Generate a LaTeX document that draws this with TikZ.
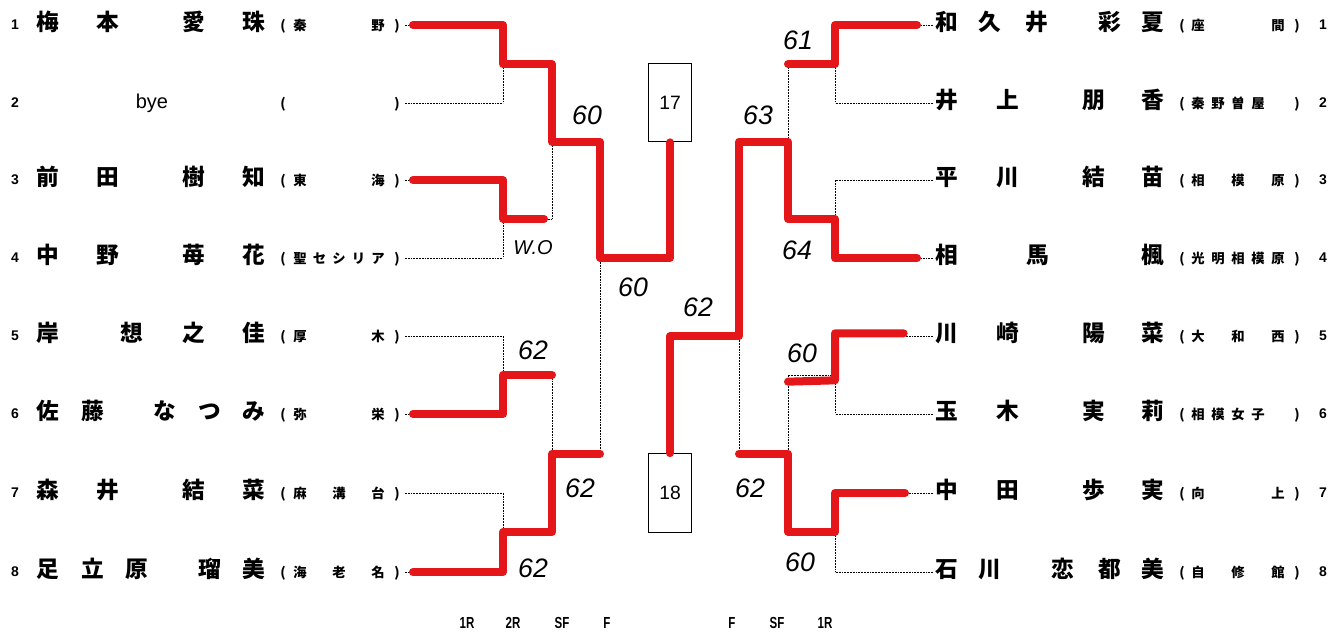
\documentclass[tikz,border=0pt]{standalone}
\usepackage{fontspec}
\newfontfamily\jp{Noto Sans CJK JP}
\newfontfamily\arial{Liberation Sans}
\definecolor{marker}{RGB}{228,22,26}
\tikzset{
  nm/.style={inner sep=0pt, font=\jp\bfseries\fontsize{17}{17}\selectfont, text height=0.8em, text depth=0.04em},
  sc/.style={inner sep=0pt, font=\jp\bfseries\fontsize{10}{10}\selectfont, text height=0.8em, text depth=0.04em},
  num/.style={inner sep=0pt, font=\arial\bfseries\fontsize{10.5}{10.5}\selectfont},
  pr/.style={line width=0.75pt, dash pattern=on 1.4pt off 0.7pt},
  win/.style={draw=marker, line width=6pt, line cap=round, line join=round},
  score/.style={inner sep=0pt, font=\arial\itshape\fontsize{20}{20}\selectfont},
  qbox/.style={draw, line width=0.8pt, minimum width=32pt, minimum height=59pt, inner sep=0pt, font=\arial\fontsize{14.5}{14.5}\selectfont},
  rnd/.style={inner sep=0pt, font=\arial\bfseries\fontsize{12}{12}\selectfont}
}
\newcommand\chars[4]{\foreach \zi/\xx [count=\k] in {#4} {\node[#2] (#1\k) at (\xx,#3) {\zi};}}
\begin{document}
\begin{tikzpicture}[x=0.75pt,y=-0.75pt]
\useasboundingbox (0,0) rectangle (1334,632);
% ---------- numbers and parentheses ----------
\foreach \y [count=\i] in {25,103,180,258,336,414,493,572} {
  \node[num] (lnum\i) at (15,\y) {\i};
  \node[num] (rnum\i) at (1323,\y) {\i};
  \node[sc] (lpo\i) at (283,\y) {(};
  \node[sc] (lpc\i) at (397,\y) {)};
  \node[sc] (rpo\i) at (1182,\y) {(};
  \node[sc] (rpc\i) at (1297,\y) {)};
}
% ---------- left names ----------
\chars{lnA}{nm}{25}{梅/48,本/108,愛/194,珠/254}
\node[inner sep=0pt, font=\arial\fontsize{15}{15}\selectfont] (bye) at (152,103) {bye};
\chars{lnC}{nm}{180}{前/48,田/108,樹/194,知/254}
\chars{lnD}{nm}{258}{中/48,野/108,苺/194,花/254}
\chars{lnE}{nm}{336}{岸/48,想/132,之/194,佳/254}
\chars{lnF}{nm}{414}{佐/48,藤/93,な/165,つ/210,み/254}
\chars{lnG}{nm}{493}{森/48,井/108,結/194,菜/254}
\chars{lnH}{nm}{572}{足/48,立/93,原/137,瑠/210,美/254}
\chars{lsA}{sc}{25}{秦/300,野/378}
\chars{lsC}{sc}{180}{東/300,海/378}
\chars{lsD}{sc}{258}{聖/300,セ/319.5,シ/339,リ/358.5,ア/378}
\chars{lsE}{sc}{336}{厚/300,木/378}
\chars{lsF}{sc}{414}{弥/300,栄/378}
\chars{lsG}{sc}{493}{麻/300,溝/339,台/378}
\chars{lsH}{sc}{572}{海/300,老/339,名/378}
% ---------- right names ----------
\chars{rnA}{nm}{25}{和/947,久/990,井/1037,彩/1110,夏/1153}
\chars{rnB}{nm}{103}{井/947,上/1008,朋/1094,香/1153}
\chars{rnC}{nm}{180}{平/947,川/1008,結/1094,苗/1153}
\chars{rnD}{nm}{258}{相/947,馬/1038,楓/1153}
\chars{rnE}{nm}{336}{川/947,崎/1008,陽/1094,菜/1153}
\chars{rnF}{nm}{414}{玉/947,木/1008,実/1094,莉/1153}
\chars{rnG}{nm}{493}{中/947,田/1008,歩/1094,実/1153}
\chars{rnH}{nm}{572}{石/947,川/990,恋/1063,都/1110,美/1153}
\chars{rsA}{sc}{25}{座/1198,間/1278}
\chars{rsB}{sc}{103}{秦/1198,野/1218,曽/1238,屋/1258}
\chars{rsC}{sc}{180}{相/1198,模/1238,原/1278}
\chars{rsD}{sc}{258}{光/1198,明/1218,相/1238,模/1258,原/1278}
\chars{rsE}{sc}{336}{大/1198,和/1238,西/1278}
\chars{rsF}{sc}{414}{相/1198,模/1218,女/1238,子/1258}
\chars{rsG}{sc}{493}{向/1198,上/1278}
\chars{rsH}{sc}{572}{自/1198,修/1238,館/1278}
% ---------- boxes ----------
\node[qbox] (box17) at (670,102.5) {17};
\node[qbox] (box18) at (670,493) {18};
% ---------- coordinates ----------
\foreach \y [count=\i] in {25,103,180,258,336,414,493,572} {
  \coordinate (La\i) at (405,\y); \coordinate (Lb\i) at (503,\y);
  \coordinate (Ra\i) at (933,\y); \coordinate (Rb\i) at (835,\y);
}
\foreach \y [count=\i] in {64,219,375,532} {
  \coordinate (l1o\i) at (503,\y); \coordinate (l2i\i) at (552,\y);
  \coordinate (r1o\i) at (835,\y); \coordinate (rsi\i) at (788,\y);
}
\foreach \y [count=\i] in {141.5,453.5} {
  \coordinate (l2o\i) at (552,\y); \coordinate (lsi\i) at (600,\y);
  \coordinate (rso\i) at (788,\y); \coordinate (rfi\i) at (739,\y);
}
\coordinate (lso) at (600,258); \coordinate (lf) at (670,258);
\coordinate (rfo) at (739,336); \coordinate (rf) at (670,336);
% ---------- printed bracket ----------
\foreach \i in {1,...,8} {\draw[pr] (La\i) -- (Lb\i); \draw[pr] (Ra\i) -- (Rb\i);}
\foreach \a/\b in {1/2,3/4,5/6,7/8} {\draw[pr] (Lb\a) -- (Lb\b); \draw[pr] (Rb\a) -- (Rb\b);}
\foreach \i in {1,...,4} {\draw[pr] (l1o\i) -- (l2i\i); \draw[pr] (r1o\i) -- (rsi\i);}
\draw[pr] (l2i1) -- (l2i2); \draw[pr] (l2i3) -- (l2i4);
\draw[pr] (rsi1) -- (rsi2); \draw[pr] (rsi3) -- (rsi4);
\foreach \i in {1,2} {\draw[pr] (l2o\i) -- (lsi\i); \draw[pr] (rso\i) -- (rfi\i);}
\draw[pr] (lsi1) -- (lsi2);
\draw[pr] (rfi1) -- (rfi2);
\draw[pr] (lso) -- (lf) -- (box17.south);
\draw[pr] (rfo) -- (rf) -- (box18.north);
% ---------- red marker ----------
\draw[win] ([xshift=6pt]La1) -- (Lb1) -- (l1o1) -- (l2i1) -- (l2o1) -- (lsi1) -- (lso) -- (lf) -- (box17.south);
\draw[win] ([xshift=6pt]La3) -- (Lb3) -- (l1o2) -- ([xshift=-6pt]l2i2);
\draw[win] ([xshift=6pt]La6) -- (Lb6) -- (l1o3) -- (l2i3);
\draw[win] ([xshift=6pt]La8) -- (Lb8) -- (l1o4) -- (l2i4) -- (l2o2) -- (lsi2);
\draw[win] ([xshift=-12pt]Ra1) -- (Rb1) -- (r1o1) -- (rsi1);
\draw[win] ([xshift=-12pt]Ra4) -- (Rb4) -- (r1o2) -- (rsi2) -- (rso1) -- (rfi1) -- (rfo) -- (rf) -- (box18.north);
\draw[win] ([xshift=-22pt,yshift=2pt]Ra5) -- ([yshift=2pt]Rb5) -- ([yshift=-4pt]r1o3) -- ([yshift=-5pt]rsi3);
\draw[win] ([xshift=-21pt]Ra7) -- (Rb7) -- (r1o4) -- (rsi4) -- (rso2) -- (rfi2);
% ---------- scores ----------
\node[score] (sA) at (587,115) {60};
\node[score, font=\arial\itshape\fontsize{15}{15}\selectfont] (sB) at (533,248) {W.O};
\node[score] (sC) at (633,287) {60};
\node[score] (sD) at (533,350) {62};
\node[score] (sE) at (580,488) {62};
\node[score] (sF) at (533,568) {62};
\node[score] (sG) at (798,40) {61};
\node[score] (sH) at (758,115) {63};
\node[score] (sI) at (797,250) {64};
\node[score] (sJ) at (698,307) {62};
\node[score] (sK) at (802,353) {60};
\node[score] (sL) at (750,488) {62};
\node[score] (sM) at (800,562) {60};
% ---------- round labels ----------
\node[rnd] (rl1) at (467,623) {\scalebox{0.72}[1]{1R}};
\node[rnd] (rl2) at (513,623) {\scalebox{0.72}[1]{2R}};
\node[rnd] (rl3) at (562,623) {\scalebox{0.72}[1]{SF}};
\node[rnd] (rl4) at (607,623) {\scalebox{0.72}[1]{F}};
\node[rnd] (rr1) at (732,623) {\scalebox{0.72}[1]{F}};
\node[rnd] (rr2) at (777,623) {\scalebox{0.72}[1]{SF}};
\node[rnd] (rr3) at (825,623) {\scalebox{0.72}[1]{1R}};
\end{tikzpicture}
\end{document}
